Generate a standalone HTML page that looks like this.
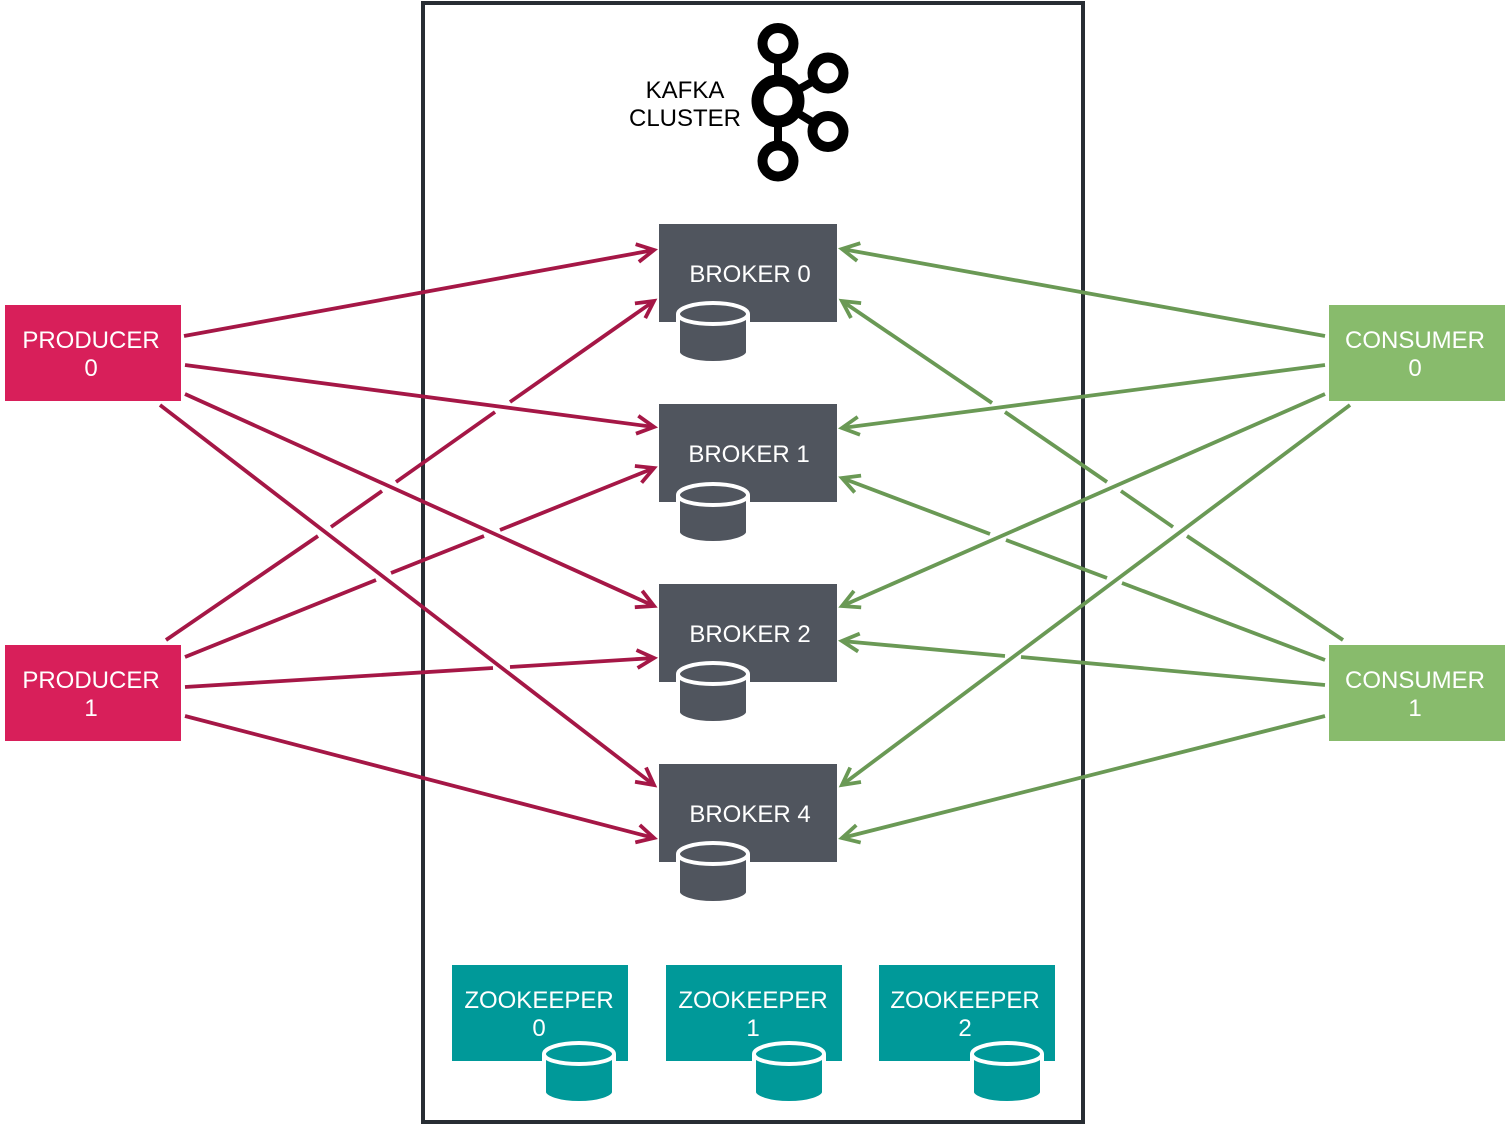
<!DOCTYPE html>
<html>
<head>
<meta charset="utf-8">
<style>
html,body{margin:0;padding:0;background:#fff;}
svg{display:block;}
text{font-family:"Liberation Sans",Arial,sans-serif;font-size:24px;text-anchor:middle;}
.w{fill:#fff;}
.k{fill:#000;}
.r{stroke:#A51746;stroke-width:3.8;fill:none;}
.g{stroke:#6A9955;stroke-width:3.8;fill:none;}
.rh{stroke:#A51746;stroke-width:3.8;fill:none;stroke-miterlimit:10;}
.gh{stroke:#6A9955;stroke-width:3.8;fill:none;stroke-miterlimit:10;}
</style>
</head>
<body>
<svg width="1508" height="1124" viewBox="0 0 1508 1124" xmlns="http://www.w3.org/2000/svg">
<defs>
<marker id="mr" markerUnits="userSpaceOnUse" markerWidth="30" markerHeight="30" refX="20" refY="15" orient="auto" overflow="visible"><path class="rh" d="M3,6 L20,15 L3,24"/></marker>
<marker id="mg" markerUnits="userSpaceOnUse" markerWidth="30" markerHeight="30" refX="20" refY="15" orient="auto" overflow="visible"><path class="gh" d="M3,6 L20,15 L3,24"/></marker>
</defs>

<rect x="423" y="3" width="660" height="1119" fill="#fff" stroke="#282D33" stroke-width="4"/>

<!-- Kafka logo -->
<g fill="none" stroke="#000">
<path d="M778,60 V145 M778,101 L828,73 M778,101 L828,131.500" stroke-width="8"/>
<circle cx="778" cy="101" r="20.500" stroke-width="12" fill="#fff"/>
<circle cx="778" cy="43.500" r="15.500" stroke-width="10" fill="#fff"/>
<circle cx="778" cy="161" r="15.500" stroke-width="10" fill="#fff"/>
<circle cx="828" cy="73" r="15.500" stroke-width="10" fill="#fff"/>
<circle cx="828" cy="131.500" r="15.500" stroke-width="10" fill="#fff"/>
</g>
<text class="k" x="685" y="98">KAFKA</text>
<text class="k" x="685" y="126">CLUSTER</text>

<!-- Boxes -->
<rect x="5" y="305" width="176" height="96" fill="#D81F5A"/>
<rect x="5" y="645" width="176" height="96" fill="#D81F5A"/>
<rect x="1329" y="305" width="176" height="96" fill="#88BB6C"/>
<rect x="1329" y="645" width="176" height="96" fill="#88BB6C"/>
<rect x="659" y="224" width="178" height="98" fill="#50555E"/>
<rect x="659" y="404" width="178" height="98" fill="#50555E"/>
<rect x="659" y="584" width="178" height="98" fill="#50555E"/>
<rect x="659" y="764" width="178" height="98" fill="#50555E"/>
<rect x="452" y="965" width="176" height="96" fill="#009999"/>
<rect x="666" y="965" width="176" height="96" fill="#009999"/>
<rect x="879" y="965" width="176" height="96" fill="#009999"/>

<!-- Red connectors -->
<g class="r">
<path d="M184,336 L654,250" marker-end="url(#mr)"/>
<path d="M185,365 L654,427" marker-end="url(#mr)"/>
<path d="M185,394 L654,606" marker-end="url(#mr)"/>
<path d="M160,405 L654,785" marker-end="url(#mr)"/>
<path d="M166,640 L318,536 M331,527 L382,491 M396,482 L495,412 M510,402 L654,301" marker-end="url(#mr)"/>
<path d="M185,657 L376,580 M391,573 L484,536 M500,530 L654,468" marker-end="url(#mr)"/>
<path d="M185,687 L493,668 M510,667 L654,658" marker-end="url(#mr)"/>
<path d="M185,716 L654,838" marker-end="url(#mr)"/>
</g>

<!-- Green connectors -->
<g class="g">
<path d="M1325,336 L842,249" marker-end="url(#mg)"/>
<path d="M1325,365 L842,428" marker-end="url(#mg)"/>
<path d="M1325,394 L842,606" marker-end="url(#mg)"/>
<path d="M1350,405 L842,785" marker-end="url(#mg)"/>
<path d="M1343,640 L1187,536 M1173,527 L1121,491 M1107,482 L1005,412 M992,403 L842,301" marker-end="url(#mg)"/>
<path d="M1325,660 L1122,583 M1107,578 L1006,540 M990,534 L842,478" marker-end="url(#mg)"/>
<path d="M1325,685 L1021,657 M1005,656 L842,641" marker-end="url(#mg)"/>
<path d="M1325,716 L842,838" marker-end="url(#mg)"/>
</g>

<!-- Cylinders -->
<g stroke="#fff" stroke-width="4">
<g fill="#50555E">
<path d="M678,314 C678,308 694,303 713,303 C732,303 748,308 748,314 V352 C748,358 732,363 713,363 C694,363 678,358 678,352 Z"/>
<path d="M678,314 C678,320 694,324 713,324 C732,324 748,320 748,314" fill="none"/>
<path d="M678,495 C678,489 694,484 713,484 C732,484 748,489 748,495 V532 C748,538 732,543 713,543 C694,543 678,538 678,532 Z"/>
<path d="M678,495 C678,501 694,505 713,505 C732,505 748,501 748,495" fill="none"/>
<path d="M678,674 C678,668 694,663 713,663 C732,663 748,668 748,674 V712 C748,718 732,723 713,723 C694,723 678,718 678,712 Z"/>
<path d="M678,674 C678,680 694,684 713,684 C732,684 748,680 748,674" fill="none"/>
<path d="M678,854 C678,848 694,843 713,843 C732,843 748,848 748,854 V892 C748,898 732,903 713,903 C694,903 678,898 678,892 Z"/>
<path d="M678,854 C678,860 694,864 713,864 C732,864 748,860 748,854" fill="none"/>
</g>
<g fill="#009999">
<path d="M544,1054 C544,1048 560,1043 579,1043 C598,1043 614,1048 614,1054 V1092 C614,1098 598,1103 579,1103 C560,1103 544,1098 544,1092 Z"/>
<path d="M544,1054 C544,1060 560,1064 579,1064 C598,1064 614,1060 614,1054" fill="none"/>
<path d="M754,1054 C754,1048 770,1043 789,1043 C808,1043 824,1048 824,1054 V1092 C824,1098 808,1103 789,1103 C770,1103 754,1098 754,1092 Z"/>
<path d="M754,1054 C754,1060 770,1064 789,1064 C808,1064 824,1060 824,1054" fill="none"/>
<path d="M972,1054 C972,1048 988,1043 1007,1043 C1026,1043 1042,1048 1042,1054 V1092 C1042,1098 1026,1103 1007,1103 C988,1103 972,1098 972,1092 Z"/>
<path d="M972,1054 C972,1060 988,1064 1007,1064 C1026,1064 1042,1060 1042,1054" fill="none"/>
</g>
</g>

<!-- Labels -->
<text class="w" x="91" y="348">PRODUCER</text><text class="w" x="91" y="376">0</text>
<text class="w" x="91" y="688">PRODUCER</text><text class="w" x="91" y="716">1</text>
<text class="w" x="1415" y="348">CONSUMER</text><text class="w" x="1415" y="376">0</text>
<text class="w" x="1415" y="688">CONSUMER</text><text class="w" x="1415" y="716">1</text>
<text class="w" x="750" y="282">BROKER 0</text>
<text class="w" x="749" y="462">BROKER 1</text>
<text class="w" x="750" y="642">BROKER 2</text>
<text class="w" x="750" y="822">BROKER 4</text>
<text class="w" x="539" y="1008">ZOOKEEPER</text><text class="w" x="539" y="1036">0</text>
<text class="w" x="753" y="1008">ZOOKEEPER</text><text class="w" x="753" y="1036">1</text>
<text class="w" x="965" y="1008">ZOOKEEPER</text><text class="w" x="965" y="1036">2</text>
</svg>
</body>
</html>
